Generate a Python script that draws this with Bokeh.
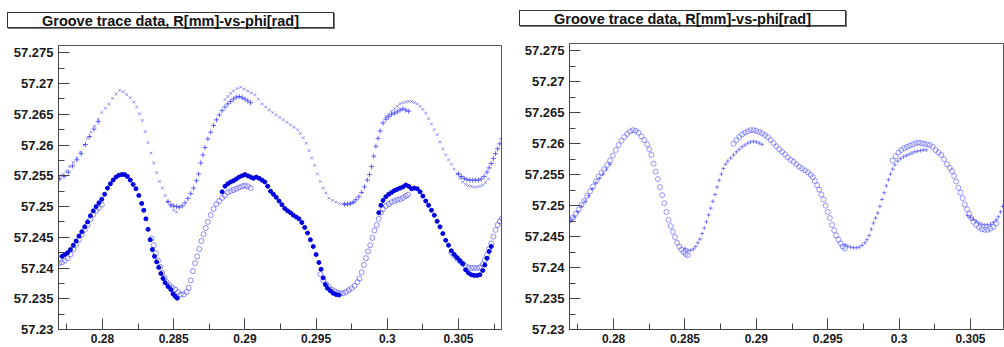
from bokeh.plotting import figure
from bokeh.layouts import row, column
from bokeh.models import FixedTicker, Range1d, Div
from bokeh.embed import file_html
from bokeh.resources import INLINE

TITLE = "Groove trace data, R[mm]-vs-phi[rad]"

x_ticks = [0.28, 0.285, 0.29, 0.295, 0.3, 0.305]
x_tick_labels = ["0.28", "0.285", "0.29", "0.295", "0.3", "0.305"]
x_minor = [0.2775, 0.2825, 0.2875, 0.2925, 0.2975, 0.3025, 0.3075]
y_ticks = [57.23, 57.235, 57.24, 57.245, 57.25, 57.255, 57.26, 57.265, 57.27, 57.275]
y_tick_labels = ["57.23", "57.235", "57.24", "57.245", "57.25", "57.255", "57.26", "57.265", "57.27", "57.275"]
y_minor = [57.2325, 57.2375, 57.2425, 57.2475, 57.2525, 57.2575, 57.2625, 57.2675, 57.2725]

# ---------------- left panel: upper trace, "x" markers (phi, R) ----------------
left_upper_x = [
    (0.27695, 57.2548), (0.27720, 57.2552), (0.27745, 57.2558), (0.27770, 57.2565), (0.27795, 57.2572),
    (0.27820, 57.2579), (0.27845, 57.2589), (0.27870, 57.2600), (0.27895, 57.2611), (0.27920, 57.2621),
    (0.27945, 57.2631), (0.27970, 57.2642), (0.27995, 57.2653), (0.28020, 57.2660), (0.28045, 57.2667),
    (0.28070, 57.2676), (0.28095, 57.2683), (0.28120, 57.2689), (0.28145, 57.2687), (0.28170, 57.2682),
    (0.28195, 57.2677), (0.28220, 57.2670), (0.28240, 57.2662), (0.28260, 57.2651), (0.28280, 57.2640),
    (0.28300, 57.2622), (0.28320, 57.2604), (0.28340, 57.2587), (0.28360, 57.2571), (0.28380, 57.2555),
    (0.28400, 57.2541), (0.28420, 57.2530), (0.28440, 57.2518), (0.28460, 57.2508), (0.28480, 57.2500),
    (0.28500, 57.2494), (0.28520, 57.2491),
    (0.28860, 57.2674), (0.28880, 57.2679), (0.28900, 57.2684), (0.28920, 57.2688), (0.28945, 57.2692),
    (0.28970, 57.2694), (0.28995, 57.2691), (0.29020, 57.2688), (0.29045, 57.2685), (0.29070, 57.2682),
    (0.29095, 57.2675), (0.29120, 57.2667), (0.29145, 57.2662), (0.29170, 57.2657), (0.29195, 57.2653),
    (0.29220, 57.2649), (0.29245, 57.2645), (0.29270, 57.2641), (0.29295, 57.2637), (0.29320, 57.2633),
    (0.29345, 57.2629), (0.29370, 57.2625), (0.29390, 57.2619), (0.29410, 57.2612), (0.29430, 57.2603),
    (0.29450, 57.2591), (0.29470, 57.2579), (0.29490, 57.2567), (0.29510, 57.2553), (0.29530, 57.2541),
    (0.29550, 57.2530), (0.29570, 57.2522), (0.29590, 57.2514), (0.29615, 57.2510), (0.29640, 57.2507),
    (0.29665, 57.2505), (0.29690, 57.2504), (0.29715, 57.2503), (0.29740, 57.2504), (0.29765, 57.2507),
    (0.29990, 57.2646), (0.30010, 57.2650), (0.30030, 57.2655), (0.30050, 57.2659), (0.30070, 57.2663),
    (0.30090, 57.2667), (0.30110, 57.2669), (0.30130, 57.2670), (0.30150, 57.2671), (0.30170, 57.2671),
    (0.30190, 57.2669), (0.30210, 57.2667), (0.30230, 57.2663), (0.30250, 57.2658), (0.30270, 57.2652),
    (0.30290, 57.2643), (0.30310, 57.2634), (0.30330, 57.2625), (0.30350, 57.2617), (0.30370, 57.2605),
    (0.30390, 57.2594), (0.30410, 57.2584), (0.30430, 57.2576), (0.30450, 57.2569), (0.30470, 57.2561),
    (0.30490, 57.2553), (0.30510, 57.2546), (0.30530, 57.2540), (0.30550, 57.2536), (0.30570, 57.2534),
    (0.30590, 57.2533), (0.30610, 57.2532), (0.30630, 57.2532), (0.30650, 57.2533), (0.30670, 57.2535),
    (0.30690, 57.2539), (0.30710, 57.2545),
]

# ---------------- left panel: upper trace, "+" markers ----------------
left_upper_plus = [
    (0.27700, 57.2545), (0.27730, 57.2549), (0.27760, 57.2556), (0.27790, 57.2566), (0.27820, 57.2576),
    (0.27850, 57.2586), (0.27880, 57.2601), (0.27910, 57.2614), (0.27940, 57.2626), (0.27970, 57.2638),
    (0.28460, 57.2508), (0.28480, 57.2503), (0.28500, 57.2501), (0.28520, 57.2500), (0.28540, 57.2499),
    (0.28560, 57.2501), (0.28580, 57.2506), (0.28600, 57.2513), (0.28620, 57.2521), (0.28640, 57.2530),
    (0.28660, 57.2542), (0.28675, 57.2553), (0.28690, 57.2571), (0.28705, 57.2584), (0.28720, 57.2596),
    (0.28740, 57.2610), (0.28760, 57.2621), (0.28780, 57.2632), (0.28800, 57.2641), (0.28820, 57.2649),
    (0.28840, 57.2656), (0.28860, 57.2662), (0.28880, 57.2667), (0.28900, 57.2671), (0.28920, 57.2675),
    (0.28940, 57.2678), (0.28960, 57.2679), (0.28980, 57.2677), (0.29000, 57.2675), (0.29020, 57.2672),
    (0.29040, 57.2669),
    (0.29700, 57.2504), (0.29720, 57.2504), (0.29740, 57.2505), (0.29760, 57.2507), (0.29780, 57.2511),
    (0.29800, 57.2516), (0.29820, 57.2523), (0.29840, 57.2532), (0.29860, 57.2543), (0.29875, 57.2552),
    (0.29890, 57.2565), (0.29905, 57.2582), (0.29920, 57.2598), (0.29935, 57.2611), (0.29950, 57.2623),
    (0.29970, 57.2636), (0.29990, 57.2642), (0.30010, 57.2646), (0.30030, 57.2650), (0.30050, 57.2652),
    (0.30070, 57.2654), (0.30090, 57.2657), (0.30110, 57.2659), (0.30130, 57.2657), (0.30150, 57.2655),
    (0.30500, 57.2553), (0.30520, 57.2549), (0.30540, 57.2546), (0.30560, 57.2544), (0.30580, 57.2543),
    (0.30600, 57.2543), (0.30620, 57.2543), (0.30640, 57.2543), (0.30660, 57.2545), (0.30680, 57.2549),
    (0.30700, 57.2556), (0.30715, 57.2563), (0.30730, 57.2570), (0.30745, 57.2578), (0.30760, 57.2586),
    (0.30775, 57.2594), (0.30790, 57.2602), (0.30805, 57.2610),
]

# ---------------- left panel: lower trace, filled dots ----------------
left_lower_dots = [
    (0.27715, 57.2419), (0.27735, 57.2422), (0.27755, 57.2425), (0.27775, 57.2430), (0.27795, 57.2437),
    (0.27815, 57.2444), (0.27835, 57.2452), (0.27855, 57.2459), (0.27875, 57.2467), (0.27895, 57.2475),
    (0.27915, 57.2485), (0.27935, 57.2493), (0.27955, 57.2500), (0.27975, 57.2506), (0.27995, 57.2512),
    (0.28015, 57.2520), (0.28035, 57.2530), (0.28055, 57.2537), (0.28075, 57.2543), (0.28095, 57.2548),
    (0.28115, 57.2551), (0.28135, 57.2552), (0.28155, 57.2552), (0.28175, 57.2549), (0.28195, 57.2543),
    (0.28215, 57.2536), (0.28235, 57.2529), (0.28255, 57.2518), (0.28275, 57.2505), (0.28290, 57.2494),
    (0.28305, 57.2480), (0.28320, 57.2463), (0.28335, 57.2446), (0.28350, 57.2430), (0.28365, 57.2419),
    (0.28380, 57.2410), (0.28395, 57.2401), (0.28410, 57.2391), (0.28425, 57.2383), (0.28440, 57.2376),
    (0.28460, 57.2370), (0.28480, 57.2365), (0.28495, 57.2358), (0.28510, 57.2354), (0.28525, 57.2351),
    (0.28840, 57.2524), (0.28860, 57.2533), (0.28880, 57.2537), (0.28900, 57.2540), (0.28920, 57.2542),
    (0.28940, 57.2545), (0.28960, 57.2548), (0.28980, 57.2550), (0.29000, 57.2552), (0.29020, 57.2550),
    (0.29040, 57.2548), (0.29060, 57.2546), (0.29080, 57.2548), (0.29100, 57.2546), (0.29120, 57.2543),
    (0.29140, 57.2540), (0.29160, 57.2533), (0.29180, 57.2525), (0.29200, 57.2520), (0.29220, 57.2515),
    (0.29240, 57.2509), (0.29260, 57.2503), (0.29280, 57.2497), (0.29300, 57.2493), (0.29320, 57.2490),
    (0.29340, 57.2486), (0.29360, 57.2483), (0.29380, 57.2480), (0.29400, 57.2474), (0.29420, 57.2466),
    (0.29440, 57.2457), (0.29460, 57.2446), (0.29480, 57.2435), (0.29500, 57.2422), (0.29520, 57.2409),
    (0.29535, 57.2398), (0.29550, 57.2384), (0.29565, 57.2373), (0.29580, 57.2367), (0.29600, 57.2363),
    (0.29620, 57.2359), (0.29640, 57.2357), (0.29660, 57.2356),
    (0.29940, 57.2490), (0.29955, 57.2502), (0.29970, 57.2510), (0.29990, 57.2516), (0.30010, 57.2520),
    (0.30030, 57.2523), (0.30050, 57.2526), (0.30070, 57.2528), (0.30090, 57.2530), (0.30110, 57.2532),
    (0.30130, 57.2535), (0.30150, 57.2533), (0.30170, 57.2529), (0.30190, 57.2530), (0.30210, 57.2529),
    (0.30230, 57.2524), (0.30250, 57.2517), (0.30270, 57.2509), (0.30290, 57.2502), (0.30310, 57.2494),
    (0.30330, 57.2486), (0.30350, 57.2476), (0.30370, 57.2467), (0.30390, 57.2456), (0.30410, 57.2445),
    (0.30430, 57.2437), (0.30450, 57.2428), (0.30470, 57.2422), (0.30490, 57.2417), (0.30510, 57.2412),
    (0.30530, 57.2407), (0.30550, 57.2397), (0.30570, 57.2392), (0.30590, 57.2389), (0.30610, 57.2388),
    (0.30630, 57.2388), (0.30650, 57.2389), (0.30670, 57.2396), (0.30685, 57.2405), (0.30700, 57.2416),
    (0.30715, 57.2427), (0.30730, 57.2435),
]

# ---------------- left panel: lower trace, open circles ----------------
left_lower_open = [
    (0.27695, 57.2408), (0.27715, 57.2409), (0.27735, 57.2412), (0.27755, 57.2416), (0.27775, 57.2422),
    (0.27795, 57.2430), (0.27815, 57.2438), (0.27835, 57.2446), (0.27855, 57.2454), (0.27875, 57.2462),
    (0.27895, 57.2470), (0.27915, 57.2479), (0.27935, 57.2487), (0.27955, 57.2493), (0.27975, 57.2498),
    (0.27995, 57.2503),
    (0.28345, 57.2448), (0.28360, 57.2437), (0.28375, 57.2424), (0.28390, 57.2412), (0.28405, 57.2402),
    (0.28420, 57.2392), (0.28435, 57.2384), (0.28450, 57.2377), (0.28470, 57.2372), (0.28490, 57.2368),
    (0.28510, 57.2365), (0.28530, 57.2361), (0.28550, 57.2357), (0.28570, 57.2357), (0.28590, 57.2361),
    (0.28605, 57.2368), (0.28620, 57.2380), (0.28635, 57.2395), (0.28650, 57.2408), (0.28665, 57.2419),
    (0.28680, 57.2431), (0.28695, 57.2444), (0.28710, 57.2455), (0.28725, 57.2465), (0.28740, 57.2475),
    (0.28760, 57.2486), (0.28780, 57.2496), (0.28800, 57.2504), (0.28820, 57.2509), (0.28840, 57.2514),
    (0.28860, 57.2518), (0.28880, 57.2523), (0.28900, 57.2525), (0.28920, 57.2527), (0.28940, 57.2529),
    (0.28960, 57.2531), (0.28980, 57.2533), (0.29000, 57.2534), (0.29020, 57.2533), (0.29040, 57.2530),
    (0.29530, 57.2390), (0.29550, 57.2380), (0.29570, 57.2374), (0.29590, 57.2369), (0.29610, 57.2365),
    (0.29630, 57.2362), (0.29650, 57.2360), (0.29670, 57.2359), (0.29690, 57.2359), (0.29710, 57.2361),
    (0.29730, 57.2364), (0.29750, 57.2367), (0.29770, 57.2371), (0.29790, 57.2377), (0.29805, 57.2383),
    (0.29820, 57.2393), (0.29835, 57.2405), (0.29850, 57.2416), (0.29865, 57.2427), (0.29880, 57.2437),
    (0.29895, 57.2449), (0.29910, 57.2461), (0.29925, 57.2470), (0.29940, 57.2480), (0.29955, 57.2490),
    (0.29970, 57.2496), (0.29990, 57.2501), (0.30010, 57.2504), (0.30030, 57.2507), (0.30050, 57.2509),
    (0.30070, 57.2511), (0.30090, 57.2512), (0.30110, 57.2514), (0.30130, 57.2517), (0.30145, 57.2519),
    (0.30450, 57.2425), (0.30470, 57.2420), (0.30490, 57.2415), (0.30510, 57.2411), (0.30530, 57.2407),
    (0.30550, 57.2403), (0.30570, 57.2401), (0.30590, 57.2400), (0.30610, 57.2400), (0.30630, 57.2400),
    (0.30650, 57.2401), (0.30670, 57.2406), (0.30685, 57.2413), (0.30700, 57.2421), (0.30715, 57.2431),
    (0.30730, 57.2440), (0.30745, 57.2451), (0.30760, 57.2462), (0.30775, 57.2470), (0.30790, 57.2476),
    (0.30805, 57.2481),
]

# ---------------- right panel: open circles ----------------
right_open = [
    (0.27695, 57.2477), (0.27715, 57.2481), (0.27735, 57.2487), (0.27755, 57.2494), (0.27775, 57.2501),
    (0.27795, 57.2508), (0.27815, 57.2516), (0.27835, 57.2523), (0.27855, 57.2531), (0.27875, 57.2539),
    (0.27895, 57.2547), (0.27915, 57.2553), (0.27935, 57.2559), (0.27955, 57.2566), (0.27975, 57.2573),
    (0.27995, 57.2581), (0.28015, 57.2590), (0.28035, 57.2598), (0.28055, 57.2605), (0.28075, 57.2611),
    (0.28095, 57.2616), (0.28115, 57.2620), (0.28135, 57.2622), (0.28155, 57.2621), (0.28175, 57.2618),
    (0.28195, 57.2612), (0.28215, 57.2606), (0.28235, 57.2599), (0.28250, 57.2591), (0.28265, 57.2582),
    (0.28280, 57.2568), (0.28295, 57.2555), (0.28310, 57.2543), (0.28325, 57.2530), (0.28340, 57.2517),
    (0.28355, 57.2504), (0.28370, 57.2490), (0.28385, 57.2477), (0.28400, 57.2467), (0.28415, 57.2458),
    (0.28430, 57.2449), (0.28445, 57.2440), (0.28460, 57.2434), (0.28475, 57.2429), (0.28490, 57.2425),
    (0.28505, 57.2422), (0.28520, 57.2420),
    (0.28840, 57.2600), (0.28860, 57.2606), (0.28880, 57.2611), (0.28900, 57.2615), (0.28920, 57.2618),
    (0.28940, 57.2620), (0.28960, 57.2622), (0.28980, 57.2622), (0.29000, 57.2621), (0.29020, 57.2619),
    (0.29040, 57.2617), (0.29060, 57.2614), (0.29080, 57.2611), (0.29100, 57.2606), (0.29120, 57.2601),
    (0.29140, 57.2596), (0.29160, 57.2591), (0.29180, 57.2587), (0.29200, 57.2583), (0.29220, 57.2578),
    (0.29240, 57.2574), (0.29260, 57.2571), (0.29280, 57.2567), (0.29300, 57.2563), (0.29320, 57.2560),
    (0.29340, 57.2557), (0.29360, 57.2554), (0.29380, 57.2550), (0.29395, 57.2546), (0.29410, 57.2540),
    (0.29425, 57.2533), (0.29440, 57.2526), (0.29455, 57.2518), (0.29470, 57.2510), (0.29485, 57.2500),
    (0.29500, 57.2490), (0.29515, 57.2480), (0.29530, 57.2469), (0.29545, 57.2460), (0.29560, 57.2452),
    (0.29575, 57.2445), (0.29590, 57.2439), (0.29605, 57.2434), (0.29620, 57.2431),
    (0.29955, 57.2573), (0.29975, 57.2580), (0.29995, 57.2586), (0.30015, 57.2590), (0.30035, 57.2593),
    (0.30055, 57.2595), (0.30075, 57.2597), (0.30095, 57.2599), (0.30115, 57.2601), (0.30135, 57.2602),
    (0.30155, 57.2601), (0.30175, 57.2600), (0.30195, 57.2599), (0.30215, 57.2598), (0.30235, 57.2595),
    (0.30255, 57.2590), (0.30275, 57.2586), (0.30295, 57.2582), (0.30315, 57.2575), (0.30335, 57.2567),
    (0.30355, 57.2561), (0.30370, 57.2556), (0.30385, 57.2548), (0.30400, 57.2539), (0.30415, 57.2529),
    (0.30430, 57.2521), (0.30445, 57.2512), (0.30460, 57.2502), (0.30475, 57.2494), (0.30490, 57.2487),
    (0.30505, 57.2480), (0.30520, 57.2474), (0.30540, 57.2469), (0.30560, 57.2465), (0.30580, 57.2462),
    (0.30600, 57.2461), (0.30620, 57.2461), (0.30640, 57.2463), (0.30660, 57.2466), (0.30680, 57.2471),
]

# ---------------- right panel: "+" markers ----------------
right_plus = [
    (0.27700, 57.2476), (0.27725, 57.2482), (0.27750, 57.2490), (0.27775, 57.2499), (0.27800, 57.2507),
    (0.27825, 57.2516), (0.27850, 57.2527), (0.27875, 57.2537), (0.27900, 57.2544), (0.27925, 57.2551),
    (0.27950, 57.2559), (0.27975, 57.2567),
    (0.28500, 57.2431), (0.28520, 57.2428), (0.28540, 57.2428), (0.28560, 57.2430), (0.28575, 57.2434),
    (0.28590, 57.2440), (0.28605, 57.2446), (0.28620, 57.2455), (0.28635, 57.2464), (0.28650, 57.2474),
    (0.28665, 57.2485), (0.28680, 57.2496), (0.28695, 57.2507), (0.28710, 57.2518), (0.28725, 57.2530),
    (0.28740, 57.2541), (0.28755, 57.2551), (0.28770, 57.2560), (0.28785, 57.2567), (0.28800, 57.2572),
    (0.28820, 57.2577), (0.28840, 57.2582), (0.28860, 57.2587), (0.28880, 57.2591), (0.28900, 57.2595),
    (0.28920, 57.2598), (0.28940, 57.2601), (0.28960, 57.2603), (0.28980, 57.2604), (0.29000, 57.2603),
    (0.29020, 57.2601), (0.29040, 57.2599),
    (0.29620, 57.2437), (0.29640, 57.2435), (0.29660, 57.2433), (0.29680, 57.2432), (0.29700, 57.2432),
    (0.29720, 57.2433), (0.29740, 57.2436), (0.29760, 57.2440), (0.29775, 57.2445), (0.29790, 57.2452),
    (0.29805, 57.2462), (0.29820, 57.2472), (0.29835, 57.2480), (0.29850, 57.2488), (0.29865, 57.2499),
    (0.29880, 57.2510), (0.29895, 57.2521), (0.29910, 57.2532), (0.29925, 57.2542), (0.29940, 57.2551),
    (0.29955, 57.2559), (0.29970, 57.2566), (0.29990, 57.2572), (0.30010, 57.2576), (0.30030, 57.2579),
    (0.30050, 57.2581), (0.30070, 57.2583), (0.30090, 57.2585), (0.30110, 57.2587), (0.30130, 57.2588),
    (0.30150, 57.2589), (0.30170, 57.2590), (0.30190, 57.2590),
    (0.30480, 57.2484), (0.30500, 57.2481), (0.30520, 57.2478), (0.30540, 57.2475), (0.30560, 57.2472),
    (0.30580, 57.2470), (0.30600, 57.2469), (0.30620, 57.2469), (0.30640, 57.2470), (0.30660, 57.2473),
    (0.30680, 57.2477), (0.30695, 57.2482), (0.30710, 57.2490), (0.30725, 57.2499), (0.30740, 57.2508),
    (0.30755, 57.2516),
]

FONT = "Liberation Sans"
LIGHT = "#3333ff"
DARK = "#0000e0"


def xs(pts):
    return [p[0] for p in pts]


def ys(pts):
    return [p[1] for p in pts]


def make_fig(width, border_left, border_right, border_top, x_end):
    p = figure(width=width, height=307, output_backend="svg", toolbar_location=None,
               x_range=Range1d(0.27691, x_end), y_range=Range1d(57.23, 57.2762),
               min_border_left=border_left, min_border_right=border_right,
               min_border_top=border_top, min_border_bottom=18)
    p.xgrid.visible = False
    p.ygrid.visible = False
    p.outline_line_color = "#555555"
    p.background_fill_color = "white"
    p.border_fill_color = "white"
    for ax, ticks, minor, labels, size in (
        (p.xaxis, x_ticks, x_minor, x_tick_labels, "12px"),
        (p.yaxis, y_ticks, y_minor, y_tick_labels, "13px"),
    ):
        ax.ticker = FixedTicker(ticks=ticks, minor_ticks=minor)
        ax.major_label_overrides = dict(zip(ticks, labels))
        ax.major_tick_in = 11
        ax.major_tick_out = 0
        ax.minor_tick_in = 6
        ax.minor_tick_out = 0
        ax.axis_line_color = "#444444"
        ax.major_tick_line_color = "#444444"
        ax.minor_tick_line_color = "#444444"
        ax.major_label_text_font = FONT
        ax.major_label_text_font_style = "bold"
        ax.major_label_text_font_size = size
        ax.major_label_text_color = "#1a1a1a"
    p.xaxis.major_label_standoff = 4
    p.yaxis.major_label_standoff = 5
    return p


def title_div(width, left, top):
    box = ('<div style="padding:%dpx 0 0 %dpx;">'
           '<div style="width:327px;height:16px;border:1px solid #333;'
           'box-shadow:1px 1px 0 #777;background:white;color:#111;'
           'font-family:\'Liberation Sans\';font-weight:bold;font-size:14.5px;'
           'line-height:16px;text-align:center;white-space:nowrap;">%s</div></div>'
           % (top, left, TITLE))
    return Div(text=box, width=width, height=40, margin=0)


# left panel
p1 = make_fig(512, 58, 11, 5, 0.30802)
p1.scatter(xs(left_upper_x), ys(left_upper_x), marker="x", size=4, line_color=LIGHT, line_alpha=0.5)
p1.scatter(xs(left_upper_plus), ys(left_upper_plus), marker="cross", size=5, line_color=LIGHT, line_alpha=0.75)
p1.scatter(xs(left_lower_open), ys(left_lower_open), marker="circle", size=5, fill_color=None,
           line_color=LIGHT, line_alpha=0.55)
p1.scatter(xs(left_lower_dots), ys(left_lower_dots), marker="circle", size=4, fill_color=DARK,
           line_color=DARK)

# right panel
p2 = make_fig(492, 57, 0, 3, 0.30738)
p2.scatter(xs(right_plus), ys(right_plus), marker="cross", size=4, line_color=LIGHT, line_alpha=0.6)
p2.scatter(xs(right_open), ys(right_open), marker="circle", size=5, fill_color=None,
           line_color=LIGHT, line_alpha=0.5)

layout = row(column(title_div(512, 7, 12), p1, spacing=0),
             column(title_div(492, 7, 10), p2, spacing=0), spacing=0)
open("out.html", "w").write(file_html(layout, INLINE))
